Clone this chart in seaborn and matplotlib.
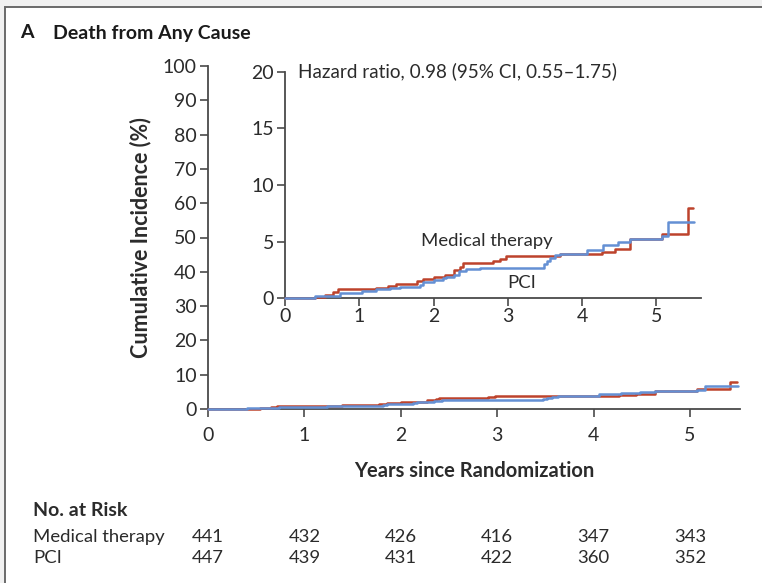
import matplotlib
matplotlib.use("Agg")
import matplotlib.pyplot as plt
import matplotlib.patches as mpatches
import matplotlib.transforms as mtransforms
import numpy as np
import pandas as pd
import seaborn as sns

# Cumulative incidence step functions (years, %)
med_years = [0, 0.40, 0.54, 0.65, 0.72, 1.23, 1.39, 1.50, 1.77, 1.86, 2.00, 2.15,
             2.27, 2.36, 2.40, 2.80, 2.90, 2.98, 3.70, 4.26, 4.44, 4.64, 5.07, 5.42, 5.49]
med_inc = [0, 0.1, 0.3, 0.6, 0.8, 0.9, 1.1, 1.3, 1.5, 1.7, 1.9, 2.1,
           2.5, 2.8, 3.1, 3.3, 3.5, 3.7, 3.9, 4.1, 4.35, 5.2, 5.7, 8.0, 8.0]

pci_years = [0, 0.40, 0.74, 1.03, 1.23, 1.41, 1.55, 1.82, 1.86, 2.00, 2.13, 2.17,
             2.27, 2.34, 2.43, 2.63, 3.48, 3.52, 3.57, 3.63, 3.70, 4.06, 4.28, 4.48,
             4.64, 5.07, 5.16, 5.50]
pci_inc = [0, 0.2, 0.5, 0.65, 0.8, 0.9, 1.0, 1.2, 1.4, 1.6, 1.8, 1.9,
           2.1, 2.4, 2.55, 2.7, 3.0, 3.3, 3.6, 3.85, 3.9, 4.27, 4.7, 5.0,
           5.2, 5.5, 6.7, 6.7]

groups = ["Medical therapy", "PCI"]
risk_years = [0, 1, 2, 3, 4, 5]
risk_med = [441, 432, 426, 416, 347, 343]
risk_pci = [447, 439, 431, 422, 360, 352]

main_yticks = list(range(0, 101, 10))
inset_yticks = [0, 5, 10, 15, 20]
xticks = [0, 1, 2, 3, 4, 5]

df = pd.concat([
    pd.DataFrame({"Years": med_years, "Incidence": med_inc, "Group": groups[0]}),
    pd.DataFrame({"Years": pci_years, "Incidence": pci_inc, "Group": groups[1]}),
], ignore_index=True)

sns.set_theme(style="white")
plt.rcParams["font.family"] = ["Lato", "DejaVu Sans"]

RED = "#bd432c"
BLUE = "#6490d4"
palette = {groups[0]: RED, groups[1]: BLUE}
AX_COL = "#4a4a4a"
TXT = "#2b2b2b"
FS = 13
TICK_FS = 14

fig = plt.figure(figsize=(7.62, 5.83), dpi=100)
fig.patch.set_facecolor("#f1f1f1")
frame = mpatches.Rectangle((5 / 762, -0.05), 1.0, 1 - 7 / 583 + 0.05,
                           transform=fig.transFigure, facecolor="white",
                           edgecolor="#6a6a6a", linewidth=1.4, zorder=-10)
fig.patches.append(frame)


def style_axes(ax, ylim, xlim, yticks, xpad):
    ax.set_facecolor("none")
    for s in ["top", "right"]:
        ax.spines[s].set_visible(False)
    for s in ["left", "bottom"]:
        ax.spines[s].set_color(AX_COL)
        ax.spines[s].set_linewidth(1.3)
    ax.set_xlim(*xlim)
    ax.set_ylim(*ylim)
    ax.spines["left"].set_bounds(ylim[0], ylim[1])
    ax.set_xticks(xticks)
    ax.set_yticks(yticks)
    ax.tick_params(axis="both", direction="out", length=6, width=1.2,
                   color=AX_COL, labelcolor=TXT, labelsize=TICK_FS,
                   left=True, bottom=True)
    ax.tick_params(axis="y", pad=2)
    ax.tick_params(axis="x", pad=xpad)
    for line in ax.get_lines():
        line.set_zorder(3)
        line.set_clip_on(False)
    ax.set_xlabel("")
    ax.set_ylabel("")
    leg = ax.get_legend()
    if leg is not None:
        leg.remove()


# Main panel (0-100%)
ax = fig.add_axes([208 / 762, 1 - 409 / 583, (740 - 208) / 762, (409 - 66) / 583])
sns.lineplot(data=df, x="Years", y="Incidence", hue="Group", palette=palette,
             estimator=None, sort=False, drawstyle="steps-post", linewidth=1.8,
             ax=ax)
style_axes(ax, (0, 100), (0, (740 - 208) / 96.4), main_yticks, xpad=7)
ax.set_xlabel("Years since Randomization", fontsize=14.5, fontweight="bold",
              color=TXT, labelpad=12)
ax.set_ylabel("Cumulative Incidence (%)", fontsize=15.5, fontweight="bold",
              color=TXT, labelpad=8)

# Inset (0-20%)
ins = fig.add_axes([285 / 762, 1 - 298.3 / 583, (701 - 285) / 762, (298.3 - 71.7) / 583])
sns.lineplot(data=df, x="Years", y="Incidence", hue="Group", palette=palette,
             estimator=None, sort=False, drawstyle="steps-post", linewidth=1.8,
             ax=ins)
style_axes(ins, (0, 20), (0, (701 - 285) / 74.3), inset_yticks, xpad=1)
ins.text(0.18, 20, "Hazard ratio, 0.98 (95% CI, 0.55\u20131.75)", fontsize=13.6,
         color=TXT, va="center", ha="left")
ins.text(2.72, 5.1, groups[0], fontsize=13.3, color=TXT, ha="center", va="center")
ins.text(3.19, 1.35, groups[1], fontsize=13.3, color=TXT, ha="center", va="center")

# Title
fig.text(20 / 762, 1 - 33 / 583, "A", fontsize=14, fontweight="bold",
         color="#1a1a1a", va="center", ha="left")
fig.text(53 / 762, 1 - 33 / 583, "Death from Any Cause", fontsize=14,
         fontweight="bold", color="#1a1a1a", va="center", ha="left")

# Number at risk table
fig.text(33 / 762, 1 - 511 / 583, "No. at Risk", fontsize=14, fontweight="bold",
         color=TXT, va="center", ha="left")
blend = mtransforms.blended_transform_factory(ax.transData, fig.transFigure)
for label, counts, ypx in [(groups[0], risk_med, 537), (groups[1], risk_pci, 558)]:
    fig.text(33 / 762, 1 - ypx / 583, label, fontsize=13.3, color=TXT,
             va="center", ha="left")
    for yr, n in zip(risk_years, counts):
        ax.text(yr, 1 - ypx / 583, str(n), fontsize=13.3, color=TXT, ha="center",
                va="center", transform=blend, clip_on=False)

fig.savefig("out.png", dpi=100, facecolor=fig.get_facecolor())
